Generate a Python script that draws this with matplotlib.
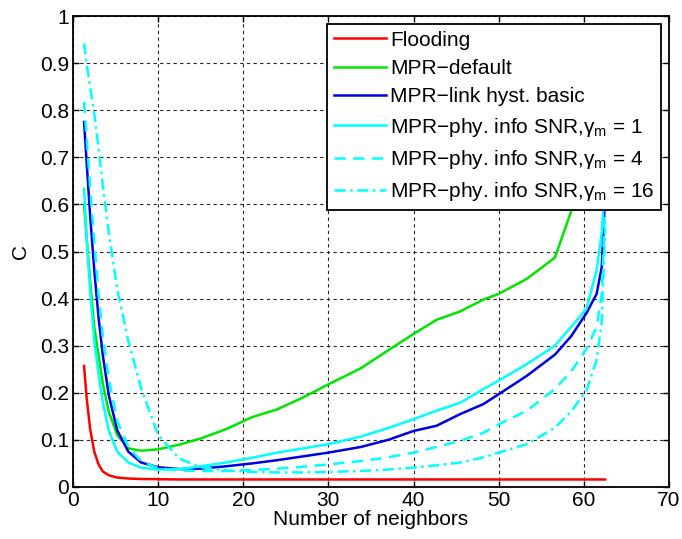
import matplotlib
matplotlib.use("Agg")
import matplotlib.pyplot as plt

plt.rcParams['font.family'] = ['Liberation Sans', 'DejaVu Sans']
plt.rcParams['mathtext.fontset'] = 'custom'
plt.rcParams['mathtext.rm'] = 'Liberation Sans'
plt.rcParams['mathtext.it'] = 'Liberation Sans:italic'

x = [1.3, 1.6, 2.0, 2.5, 3.0, 3.5, 4.2, 5.2, 6.5, 8, 10, 12.5, 15, 18, 21, 24, 27, 30,
     33.8, 37, 40, 42.7, 45.5, 48.2, 50, 53.3, 56.6, 58.5, 60.3, 61.5, 62.1, 62.5]

flooding = [0.257, 0.19, 0.125, 0.075, 0.048, 0.033, 0.025, 0.02, 0.018, 0.017, 0.0165, 0.016,
            0.016, 0.016, 0.016, 0.016, 0.016, 0.016, 0.016, 0.016, 0.016, 0.016,
            0.016, 0.016, 0.016, 0.016, 0.016, 0.016, 0.016, 0.016, 0.016, 0.016]
mpr_default = [0.60, 0.53, 0.44, 0.34, 0.28, 0.22, 0.16, 0.11, 0.082, 0.077, 0.080, 0.09,
               0.103, 0.123, 0.148, 0.165, 0.19, 0.218, 0.252, 0.29, 0.325, 0.355,
               0.373, 0.398, 0.41, 0.442, 0.487, 0.585, 0.70, 0.80, 0.90, 0.98]
mpr_link = [0.775, 0.69, 0.58, 0.46, 0.36, 0.28, 0.195, 0.12, 0.075, 0.052, 0.042, 0.038,
            0.039, 0.044, 0.05, 0.057, 0.065, 0.073, 0.085, 0.10, 0.119, 0.130,
            0.155, 0.176, 0.197, 0.236, 0.281, 0.32, 0.369, 0.41, 0.467, 0.62]
snr_g1 = [0.633, 0.53, 0.42, 0.31, 0.24, 0.18, 0.12, 0.075, 0.052, 0.041, 0.037, 0.038,
          0.044, 0.052, 0.062, 0.073, 0.082, 0.091, 0.107, 0.125, 0.144, 0.162,
          0.179, 0.208, 0.226, 0.261, 0.300, 0.34, 0.378, 0.46, 0.54, 0.65]
snr_g4 = [0.818, 0.74, 0.64, 0.52, 0.41, 0.32, 0.23, 0.14, 0.085, 0.055, 0.04, 0.035,
          0.034, 0.034, 0.036, 0.039, 0.043, 0.048, 0.055, 0.063, 0.073, 0.085,
          0.098, 0.115, 0.133, 0.162, 0.208, 0.245, 0.293, 0.34, 0.41, 0.60]
snr_g16 = [0.942, 0.90, 0.85, 0.793, 0.72, 0.64, 0.54, 0.42, 0.31, 0.21, 0.11, 0.06,
           0.042, 0.035, 0.032, 0.031, 0.031, 0.032, 0.034, 0.037, 0.041, 0.046,
           0.052, 0.063, 0.073, 0.091, 0.126, 0.16, 0.205, 0.27, 0.35, 0.55]

labels = ['Flooding', 'MPR\u2212default', 'MPR\u2212link hyst. basic',
          'MPR\u2212phy. info SNR,\u03b3$_{\\mathrm{m}}$ = 1',
          'MPR\u2212phy. info SNR,\u03b3$_{\\mathrm{m}}$ = 4',
          'MPR\u2212phy. info SNR,\u03b3$_{\\mathrm{m}}$ = 16']
xticks = [0, 10, 20, 30, 40, 50, 60, 70]
yticks = [0, 0.1, 0.2, 0.3, 0.4, 0.5, 0.6, 0.7, 0.8, 0.9, 1]
ytick_labels = ['0', '0.1', '0.2', '0.3', '0.4', '0.5', '0.6', '0.7', '0.8', '0.9', '1']

fig = plt.figure(figsize=(6.82, 5.39), dpi=100)
ax = fig.add_axes([73/682, 1-487/539, 596/682, 471/539])

lw = 1.8
ax.plot(x, flooding, color=(1, 0, 0), lw=lw, label=labels[0])
ax.plot(x, mpr_default, color=(0, 0.9, 0), lw=lw, label=labels[1])
ax.plot(x, mpr_link, color=(0, 0, 0.9), lw=lw, label=labels[2])
ax.plot(x, snr_g1, color=(0, 1, 1), lw=lw, label=labels[3])
ax.plot(x, snr_g4, color=(0, 1, 1), lw=lw, ls=(0, (4.5, 3)), label=labels[4])
ax.plot(x, snr_g16, color=(0, 1, 1), lw=lw, ls=(0, (4.5, 1.8, 1, 1.8)), label=labels[5])

ax.set_xlim(0, 70)
ax.set_ylim(0, 1)
ax.set_xticks(xticks)
ax.set_yticks(yticks)
ax.set_yticklabels(ytick_labels)
ax.tick_params(direction='in', top=True, right=True, labelsize=15, length=4,
               width=1, pad=3)
for s in ax.spines.values():
    s.set_linewidth(1.3)
ax.grid(True, color='0.15', ls=(0, (3, 3)), lw=0.8)
ax.set_axisbelow(True)
ax.set_xlabel('Number of neighbors', fontsize=15, labelpad=0)
ax.set_ylabel('C', fontsize=15, labelpad=7)

leg = ax.legend(loc='upper right', fontsize=15, frameon=True, fancybox=False,
                edgecolor='black', framealpha=1, borderpad=0.3,
                labelspacing=0.45, handlelength=2.5, handletextpad=0.2,
                borderaxespad=0.4)
leg.get_frame().set_linewidth(1.3)

fig.savefig('out.png', dpi=100)
